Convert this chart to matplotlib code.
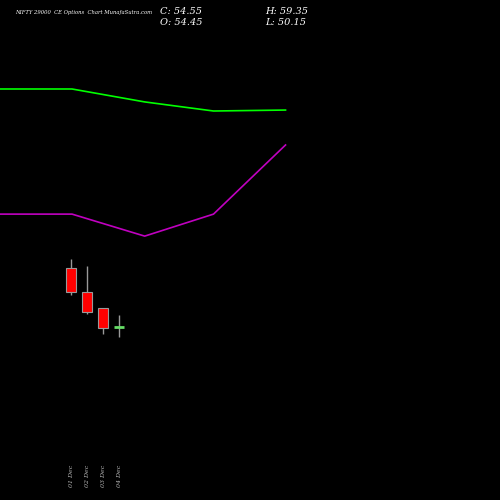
import matplotlib
matplotlib.use("Agg")
import matplotlib.pyplot as plt

dates = ["01 Dec", "02 Dec", "03 Dec", "04 Dec"]
opens = [79.2, 69.1, 62.4, 54.45]
closes = [69.1, 60.8, 54.1, 54.55]
highs = [82.9, 80.0, 62.4, 59.35]
lows = [67.9, 59.9, 51.6, 50.15]
line_x = [-4.44, 0.06, 4.6, 8.9, 13.4]
green_line = [154.0, 154.0, 148.6, 144.8, 145.2]
magenta_line = [101.7, 101.7, 92.5, 101.7, 130.6]

fig = plt.figure(figsize=(5, 5), dpi=100, facecolor="black")
ax = fig.add_axes([0, 0, 1, 1], facecolor="black")
ax.set_xlim(-4.44, 26.8)
ax.set_ylim(-17.8, 191.2)
ax.axis("off")

ax.plot(line_x, green_line, color="#00ff00", lw=1.2)
ax.plot(line_x, magenta_line, color="#c000c0", lw=1.2)

for i, (o, c, h, l) in enumerate(zip(opens, closes, highs, lows)):
    ax.vlines(i, l, h, color="#999999", lw=1)
    if abs(c - o) < 0.5:
        ax.hlines((o + c) / 2, i - 0.3, i + 0.3, color="#66dd66", lw=2)
    else:
        col = "red" if c < o else "#00cc00"
        ax.bar(i, abs(c - o), bottom=min(o, c), width=0.6, color=col,
               edgecolor="#999999", lw=0.8, zorder=3)
    ax.text(i, -3, dates[i], rotation=90, color="#bbbbbb", fontsize=4.5,
            family="DejaVu Serif", style="italic", ha="center", va="top")

fig.text(0.03, 0.975, "NIFTY 29000  CE Options  Chart MunafaSutra.com", color="white",
         fontsize=3.8, family="DejaVu Serif", style="italic", va="center")
fig.text(0.32, 0.978, "C: 54.55", color="white", fontsize=7, family="DejaVu Serif", style="italic", va="center")
fig.text(0.32, 0.955, "O: 54.45", color="white", fontsize=7, family="DejaVu Serif", style="italic", va="center")
fig.text(0.53, 0.978, "H: 59.35", color="white", fontsize=7, family="DejaVu Serif", style="italic", va="center")
fig.text(0.53, 0.955, "L: 50.15", color="white", fontsize=7, family="DejaVu Serif", style="italic", va="center")

fig.savefig("out.png", facecolor="black")
